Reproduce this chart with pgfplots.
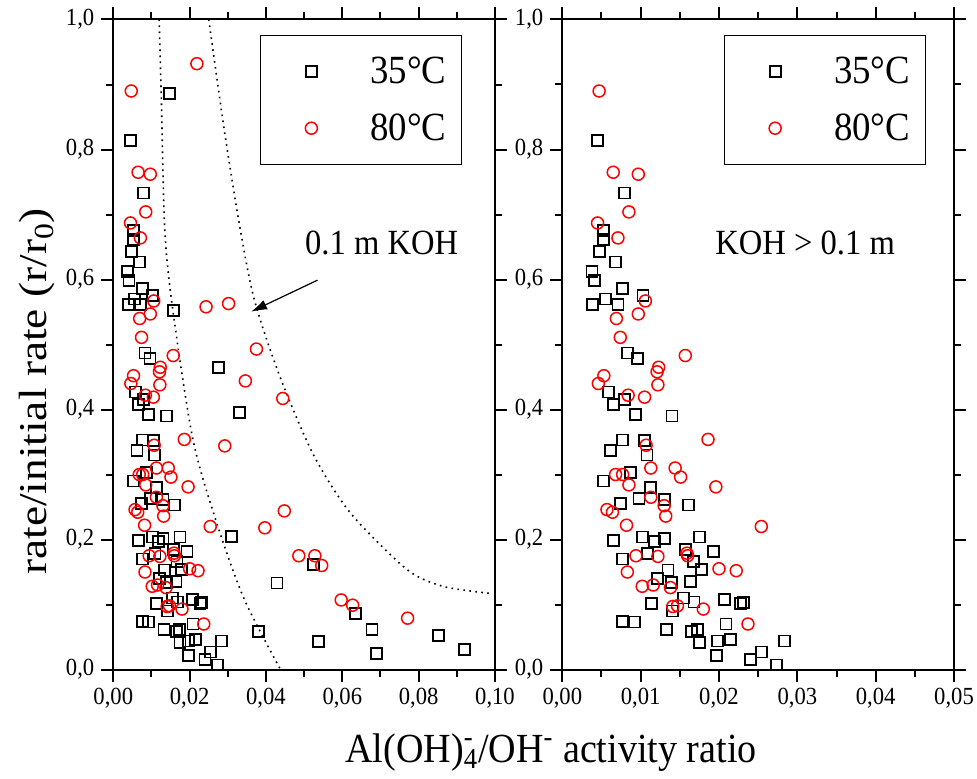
\documentclass[border=0pt]{standalone}
\usepackage{fontspec}
\setmainfont[FakeStretch=0.92]{Liberation Serif}
\newfontfamily\widefont[FakeStretch=1.15]{Liberation Serif}
\usepackage{pgfplots}
\pgfplotsset{compat=1.18}
\usepackage{pgfplotstable}
\usetikzlibrary{arrows.meta}

% 35 C, KOH > 0.1 m (also present in left panel)
\pgfplotstableread{
x y
0.0045 0.814
0.0079 0.733
0.0053 0.676
0.0053 0.661
0.0047 0.643
0.0068 0.627
0.0038 0.612
0.0041 0.598
0.0077 0.586
0.0055 0.570
0.0039 0.562
0.0071 0.561
0.0103 0.575
0.0083 0.487
0.0096 0.479
0.0059 0.427
0.0079 0.415
0.0065 0.408
0.0093 0.392
0.0140 0.390
0.0077 0.353
0.0105 0.352
0.0062 0.337
0.0108 0.330
0.0087 0.303
0.0053 0.290
0.0113 0.280
0.0098 0.263
0.0130 0.261
0.0161 0.253
0.0074 0.256
0.0065 0.198
0.0102 0.204
0.0118 0.197
0.0130 0.202
0.0175 0.204
0.0193 0.182
0.0157 0.185
0.0109 0.178
0.0077 0.170
0.0167 0.166
0.0135 0.153
0.0178 0.154
0.0122 0.140
0.0139 0.134
0.0164 0.135
0.0155 0.110
0.0168 0.104
0.0207 0.108
0.0227 0.101
0.0231 0.103
0.0114 0.102
0.0141 0.090
0.0209 0.070
0.0077 0.074
0.0092 0.073
0.0133 0.061
0.0165 0.059
0.0173 0.061
0.0175 0.041
0.0198 0.044
0.0215 0.046
0.0197 0.021
0.0240 0.016
0.0254 0.027
0.0273 0.007
0.0284 0.044
}\Rtf

% 80 C, KOH > 0.1 m
\pgfplotstableread{
x y
0.0047 0.890
0.0065 0.765
0.0097 0.762
0.0085 0.704
0.0045 0.687
0.0071 0.664
0.0106 0.567
0.0097 0.547
0.0069 0.540
0.0074 0.511
0.0157 0.483
0.0123 0.465
0.0121 0.458
0.0053 0.452
0.0046 0.440
0.0122 0.438
0.0084 0.422
0.0105 0.419
0.0186 0.354
0.0107 0.345
0.0113 0.310
0.0144 0.310
0.0151 0.296
0.0068 0.300
0.0077 0.300
0.0085 0.284
0.0196 0.281
0.0113 0.265
0.0130 0.252
0.0132 0.236
0.0057 0.246
0.0064 0.242
0.0082 0.222
0.0254 0.220
0.0094 0.175
0.0122 0.174
0.0159 0.179
0.0160 0.175
0.0200 0.155
0.0222 0.152
0.0083 0.150
0.0102 0.128
0.0116 0.130
0.0138 0.126
0.0141 0.097
0.0147 0.098
0.0180 0.093
0.0237 0.070
}\Reig

% 35 C, 0.1 m KOH (left panel only)
\pgfplotstableread{
x y
0.0147 0.886
0.0158 0.552
0.0276 0.465
0.0330 0.396
0.0310 0.205
0.0380 0.058
0.0429 0.133
0.0524 0.162
0.0634 0.086
0.0678 0.062
0.0690 0.025
0.0538 0.043
0.0851 0.052
0.0920 0.031
}\Etf

% 80 C, 0.1 m KOH (left panel only)
\pgfplotstableread{
x y
0.0219 0.932
0.0243 0.558
0.0302 0.563
0.0375 0.493
0.0346 0.444
0.0444 0.417
0.0292 0.344
0.0448 0.244
0.0397 0.218
0.0486 0.175
0.0528 0.175
0.0546 0.160
0.0597 0.107
0.0627 0.099
0.0771 0.079
}\Eeig

\begin{document}
\begin{tikzpicture}
\useasboundingbox (0pt,0pt) rectangle (488.5pt,389pt);
\pgfplotsset{
  panel/.style={
    scale only axis, height=325pt, ymin=0, ymax=1,
    ytick={0,0.2,0.4,0.6,0.8,1}, minor y tick num=1, minor x tick num=1,
    scaled x ticks=false, scaled y ticks=false,
    tick align=outside, major tick length=6pt, minor tick length=3.5pt,
    axis line style={line width=1pt},
    every tick/.append style={line width=1pt, black},
    tick label style={font=\fontsize{12.3}{14}\selectfont},
    /pgf/number format/assume math mode=true,
    y tick label style={/pgf/number format/.cd, use comma, fixed, fixed zerofill, precision=1},
    x tick label style={/pgf/number format/.cd, use comma, fixed, fixed zerofill, precision=2},
    legend cell align=left,
    legend style={draw=black, line width=0.6pt, font=\fontsize{20}{22}\selectfont,
      inner xsep=7.5pt, inner ysep=3.8pt, row sep=0pt,
      nodes={inner sep=0pt, minimum height=28.3pt},
      /tikz/every odd column/.append style={column sep=11.5pt}, anchor=north east},
    legend image code/.code={%
      \path[draw=none, fill=none] (0pt,0pt) -- (36pt,0pt);
      \draw[mark repeat=2,mark phase=2,##1] plot coordinates {(0pt,0pt) (18pt,0pt) (36pt,0pt)};},
  },
  sq/.style={only marks, mark=square, mark size=2.75pt, black, mark options={line width=0.9pt}},
  ci/.style={only marks, mark=o, mark size=3pt, red, mark options={line width=0.75pt}},
  dotcurve/.style={smooth, black, line width=0.8pt, dash pattern=on 0.8pt off 2.2pt, forget plot},
}

\begin{axis}[panel, at={(56.65pt,54.25pt)}, anchor=south west, width=190.85pt,
  xmin=0, xmax=0.1, xtick={0,0.02,0.04,0.06,0.08,0.1},
  legend style={at={(0.9136,0.976)}},
  ylabel={\widefont rate/initial rate (r/r\textsubscript{0})},
  ylabel style={at={(axis description cs:-0.174,0.428)}, anchor=base, font=\fontsize{19.7}{22}\selectfont},
  xlabel={Al(OH)\rlap{\textsuperscript{-}}\textsubscript{4}/OH\textsuperscript{-} activity ratio},
  xlabel style={at={(axis description cs:1.1467,-0.1423)}, anchor=base, font=\fontsize{20.7}{23}\selectfont},
]
\addplot[dotcurve] coordinates {(0.0120,1.0) (0.0126,0.876) (0.0135,0.676) (0.0156,0.553) (0.0209,0.353) (0.0274,0.220) (0.0344,0.107) (0.0438,0.0)};
\addplot[dotcurve] coordinates {(0.0250,1.0) (0.0292,0.825) (0.0333,0.676) (0.0370,0.568) (0.0435,0.453) (0.0522,0.333) (0.0609,0.250) (0.0696,0.194) (0.0783,0.148) (0.0870,0.127) (0.0990,0.117)};
\addplot[sq] table {\Rtf}; \addlegendentry{35°C}
\addplot[ci] table {\Reig}; \addlegendentry{80°C}
\addplot[sq, forget plot] table {\Etf};
\addplot[ci, forget plot] table {\Eeig};
\node[font=\fontsize{17.7}{19}\selectfont, anchor=base] at (axis cs:0.0703,0.639) {0.1 m KOH};
\draw[line width=0.6pt, -{Latex[length=8pt,width=5pt]}] (axis cs:0.0535,0.599) -- (axis cs:0.0361,0.5505);
\end{axis}

\begin{axis}[panel, at={(281.15pt,54.25pt)}, anchor=south west, width=195.85pt,
  xmin=0, xmax=0.05, xtick={0,0.01,0.02,0.03,0.04,0.05},
  legend style={at={(0.928,0.976)}},
]
\addplot[sq] table {\Rtf}; \addlegendentry{35°C}
\addplot[ci] table {\Reig}; \addlegendentry{80°C}
\node[font=\fontsize{17.7}{19}\selectfont, anchor=base] at (axis cs:0.031,0.639) {KOH > 0.1 m};
\end{axis}
\end{tikzpicture}
\end{document}
